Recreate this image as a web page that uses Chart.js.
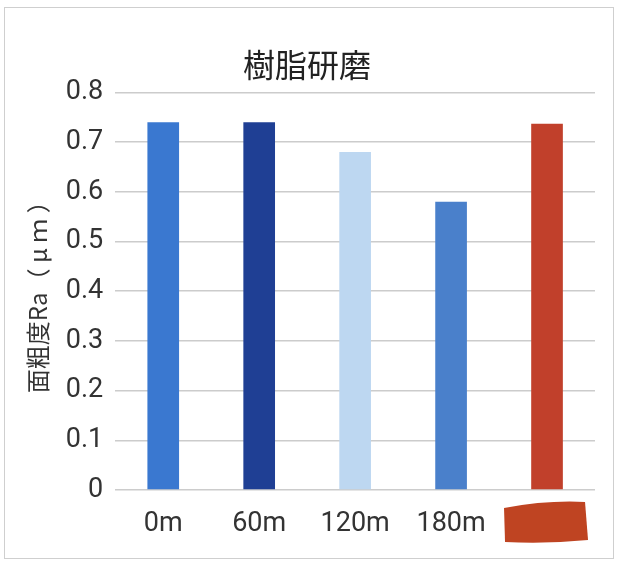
<!DOCTYPE html>
<html><head><meta charset="utf-8">
<script src="https://cdn.jsdelivr.net/npm/chart.js@4"></script>
<style>
html,body{margin:0;padding:0;background:#fff;}
#wrap{position:absolute;left:4px;top:7px;width:610px;height:552px;border:1px solid #cfcfcf;box-sizing:border-box;}
canvas{position:absolute;left:0;top:0;}
</style></head><body>
<div id="wrap"><canvas id="c" width="610" height="552"></canvas></div>
<script>
const categories = ["0m", "60m", "120m", "180m", ""];
const values = [0.74, 0.74, 0.68, 0.58, 0.737];
const barColors = ["#3a78d0", "#1f3f94", "#bdd7f1", "#4a80cb", "#c1402b"];
const yTicks = [0, 0.1, 0.2, 0.3, 0.4, 0.5, 0.6, 0.7, 0.8];
const titleText = "樹脂研磨";
const yTitle = "面粗度Ra（ μ ｍ ）";

const redact = {
  id: 'redact',
  afterDraw(chart) {
    const x = chart.scales.x;
    const cx = x.getPixelForTick(4);
    const ctx = chart.ctx;
    const top = chart.chartArea.bottom + 12;
    ctx.save();
    ctx.fillStyle = "#bf4422";
    ctx.beginPath();
    ctx.moveTo(cx - 43, top + 6);
    ctx.quadraticCurveTo(cx, top - 2, cx + 38, top);
    ctx.lineTo(cx + 41, top + 38);
    ctx.quadraticCurveTo(cx, top + 42, cx - 42, top + 40);
    ctx.closePath();
    ctx.fill();
    ctx.restore();
  }
};

new Chart(document.getElementById('c'), {
  type: 'bar',
  data: {
    labels: categories,
    datasets: [{ data: values, backgroundColor: barColors, borderWidth: 0,
      barPercentage: 0.33, categoryPercentage: 1.0 }]
  },
  options: {
    responsive: false,
    animation: false,
    devicePixelRatio: 1,
    layout: { padding: { left: 14, right: 20, top: 38, bottom: 20 } },
    plugins: {
      legend: { display: false },
      tooltip: { enabled: false },
      title: { display: true, text: titleText, color: '#222',
        font: { family: '"Noto Sans CJK JP"', size: 32, weight: 'normal' },
        padding: { top: 0, bottom: 8 } }
    },
    scales: {
      x: {
        afterFit(scale) { scale.height = 50; },
        grid: { display: false, drawTicks: false },
        border: { display: false },
        ticks: { color: '#333', font: { family: 'Roboto', size: 27 }, padding: 18 }
      },
      y: {
        min: 0, max: 0.8,
        afterBuildTicks(axis) { axis.ticks = yTicks.map(v => ({ value: v })); },
        grid: { color: '#cccccc', lineWidth: 1.5, drawTicks: false },
        border: { display: false },
        ticks: { color: '#333', font: { family: 'Roboto', size: 27 }, padding: 12,
          callback: v => String(v) },
        title: { display: true, text: yTitle, color: '#333',
          font: { family: '"Noto Sans CJK JP"', size: 24 }, padding: { bottom: 2 } }
      }
    }
  },
  plugins: [redact]
});
</script></body></html>
